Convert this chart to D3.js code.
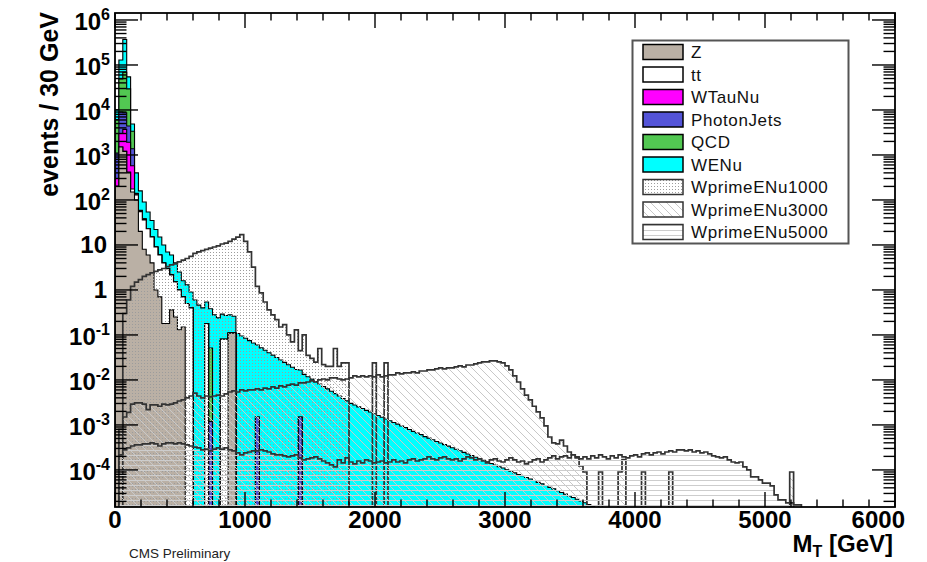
<!DOCTYPE html>
<html>
<head>
<meta charset="utf-8">
<script src="https://cdn.jsdelivr.net/npm/d3@7"></script>
<style>
  html, body { margin: 0; padding: 0; background: #fff; }
  svg { display: block; font-family: "Liberation Sans", Arial, Helvetica, sans-serif; }
</style>
</head>
<body>
<svg id="chart" width="927" height="562"></svg>
<script>
// ---------------- DATA (events / 30 GeV, bins start at 0 GeV) ----------------
const binWidth = 30; // GeV
const nBins = 200;   // 0 - 6000 GeV

const zValues = [200,1500,1200,400,150,100,20,8,6,4,1.0,0.7,0.18,0.18,0.36,0.25,0.13,0.15];
const zSpikeMT = [870, 900];
const zSpikeVal = [0.11, 0.11];

const ttValues = [0,3,8,15,25,30,35,28,17,11,8,5.3,3.8,2.8,1.8,1.25,0.87,0.55,0.5,0.4];
const ttSpikeMT = [690, 810, 840];
const ttSpikeVal = [0.18, 0.08, 0.08];

const wtaunuValues = [100,1500,2500,1500,400,5,2,1];

const photonJetsValues = [800,6000,5000,2500,800,3,1,0.5];
const pjSpikeMT = [720, 1080, 1410];
const pjSpikeVal = [0.0012, 0.0015, 0.0015];

const qcdValues = [5000,40000,60000,25000,2000,2,1,0.5];
const qcdSpikeMT = [720];
const qcdSpikeVal = [0.05];

const wenuValues = [4000,80000,300000,25000,1500,260,100,52,31,20,13,9,6,4,3.8,2.5,1.5,0.9,0.8,0.5,
  0.6,0.46,0.4,0.36,0.33,0.28,0.24,0.21,0.19,0.17,0.15,
  0.108,0.095,0.0845,0.0746,0.066,0.0585,0.0517,0.0457,0.0403,0.0356,
  0.0315,0.0278,0.0246,0.0218,0.0192,0.017,0.0151,0.0133,0.0118,0.0104,
  0.00917,0.0081,0.00717,0.00634,0.00561,0.00496,0.00439,0.00388,0.00343,0.00302,
  0.00277,0.00252,0.00231,0.00211,0.00194,0.00177,0.00162,0.00148,0.00135,0.00124,
  0.00113,0.00104,9.5e-4,8.7e-4,7.9e-4,7.2e-4,6.6e-4,6.1e-4,5.5e-4,5.1e-4,
  4.67e-4,4.3e-4,3.96e-4,3.66e-4,3.38e-4,3.11e-4,2.88e-4,2.66e-4,2.45e-4,2.26e-4,
  2.09e-4,1.92e-4,1.77e-4,1.64e-4,1.51e-4,1.39e-4,1.29e-4,1.18e-4,1.1e-4,1.01e-4,
  9.35e-5,8.6e-5,7.9e-5,7.4e-5,6.8e-5,6.3e-5,5.8e-5,5.3e-5,4.9e-5,4.5e-5,
  4.1e-5,3.8e-5,3.45e-5,3.16e-5,2.9e-5,2.65e-5,2.44e-5,2.23e-5,2.04e-5,1.87e-5,
  1.71e-5,1.55e-5];

const wprime1000Values = [0,0,0.3,0.6,1.2,1.5,1.7,2.0,2.2,2.4,
  2.6,2.8,3.0,3.3,3.6,3.8,4.2,4.6,5.0,5.6,
  6.5,7,7.5,8,8.5,9,9.5,10.5,11,12,
  13.5,15,17,12,7,3.2,1.2,0.86,0.54,0.36,
  0.28,0.22,0.15,0.17,0.1,0.07,0.13,0.045,0.1,0.035,
  0.03,0.025,0.05,0.022,0.02,0.02,0.05,0.02,0.024,0.024,
  0,0,0,0,0,0,0.024,0,0,0.024];

const wprime3000Values = [0,0.0008,0.0015,0.0019,0.0029,0.0031,0.0031,0.0029,0.0022,0.0028,
  0.0028,0.0026,0.0029,0.0028,0.0029,0.0031,0.0034,0.0036,0.0040,0.0044,
  0.0051,0.0044,0.0040,0.0044,0.0042,0.0044,0.0046,0.0044,0.0049,0.0054,
  0.0057,0.0054,0.0060,0.0057,0.0060,0.0060,0.0063,0.0060,0.0066,0.0063,
  0.0070,0.0066,0.0074,0.0070,0.0077,0.0081,0.0077,0.0086,0.0086,0.0090,
  0.0095,0.0090,0.0100,0.0105,0.0100,0.0111,0.0111,0.0105,0.0100,0.0105,
  0.0111,0.0123,0.0117,0.0123,0.0117,0.0123,0.0117,0.0129,0.0117,0.0123,
  0.0129,0.0129,0.0143,0.0136,0.0143,0.0143,0.0151,0.0143,0.0158,0.0158,
  0.0167,0.0167,0.0176,0.0185,0.0176,0.0185,0.0185,0.0195,0.0205,0.0195,
  0.0215,0.0215,0.0227,0.0239,0.0251,0.0251,0.0264,0.0264,0.0251,0.0239,
  0.0205,0.0167,0.0123,0.0090,0.0063,0.0046,0.0036,0.0026,0.00195,0.00143,
  9.5e-4,5.4e-4,4.0e-4,3.8e-4,4.6e-4,3.4e-4,2.5e-4,2.15e-4,1.85e-4,1.23e-4,9.0e-5];
const wp3000SpikeMT = [3720, 3870, 3900, 4050, 4260, 5190];
const wp3000SpikeVal = [9e-5, 9e-5, 1.7e-4, 9e-5, 9e-5, 9e-5];

const wprime5000Values = [0,2.15e-4,2.8e-4,3.1e-4,3.4e-4,3.6e-4,3.6e-4,3.8e-4,3.8e-4,4.0e-4,
  3.8e-4,3.4e-4,3.8e-4,4.0e-4,4.0e-4,3.8e-4,4.0e-4,3.8e-4,3.6e-4,3.4e-4,
  3.2e-4,3.1e-4,2.8e-4,2.9e-4,2.64e-4,2.9e-4,3.1e-4,2.9e-4,3.1e-4,2.8e-4,
  2.64e-4,2.4e-4,2.15e-4,2.4e-4,2.5e-4,2.64e-4,2.64e-4,2.8e-4,2.64e-4,2.5e-4,
  2.27e-4,2.15e-4,2.15e-4,2.05e-4,1.95e-4,2.05e-4,2.15e-4,1.85e-4,1.67e-4,1.76e-4,
  1.85e-4,1.95e-4,1.76e-4,1.58e-4,1.43e-4,1.29e-4,1.17e-4,1.67e-4,1.43e-4,1.85e-4,
  1.5e-4,1.36e-4,1.58e-4,1.43e-4,1.67e-4,1.58e-4,1.43e-4,1.5e-4,1.58e-4,1.43e-4,
  1.5e-4,1.67e-4,1.5e-4,1.58e-4,1.43e-4,1.67e-4,1.76e-4,1.58e-4,1.67e-4,1.76e-4,
  1.95e-4,1.76e-4,1.67e-4,1.85e-4,1.95e-4,1.76e-4,1.67e-4,1.76e-4,1.58e-4,1.76e-4,
  1.95e-4,1.85e-4,1.67e-4,1.76e-4,1.58e-4,1.43e-4,1.67e-4,1.76e-4,1.58e-4,1.5e-4,
  1.67e-4,1.85e-4,1.67e-4,1.5e-4,1.58e-4,1.36e-4,1.5e-4,1.67e-4,1.76e-4,1.5e-4,
  1.67e-4,1.85e-4,2.05e-4,1.76e-4,1.95e-4,2.05e-4,1.85e-4,2.15e-4,1.95e-4,1.76e-4,
  1.95e-4,1.76e-4,2.05e-4,1.85e-4,2.15e-4,1.95e-4,1.76e-4,2.05e-4,1.85e-4,2.15e-4,
  1.95e-4,1.85e-4,2.05e-4,2.15e-4,1.95e-4,2.27e-4,2.4e-4,2.15e-4,2.4e-4,2.5e-4,
  2.27e-4,2.5e-4,2.64e-4,2.5e-4,2.8e-4,2.8e-4,2.64e-4,2.8e-4,2.5e-4,2.64e-4,
  2.4e-4,2.5e-4,2.27e-4,2.05e-4,1.95e-4,1.85e-4,1.95e-4,1.67e-4,1.5e-4,1.43e-4,
  1.5e-4,1.17e-4,1.0e-4,7.0e-5,7.0e-5,6.0e-5,5.1e-5,5.1e-5,4.4e-5,2.8e-5,
  2.15e-5,2.15e-5,1.85e-5,1.85e-5,1.67e-5,1.67e-5];

const legendLabels = ["Z","tt","WTauNu","PhotonJets","QCD","WENu","WprimeENu1000","WprimeENu3000","WprimeENu5000"];
const xTickValues = [0,1000,2000,3000,4000,5000,6000];
const yTickExponents = [-4,-3,-2,-1,0,1,2,3,4,5,6];

// ---------------- LAYOUT ----------------
const svg = d3.select("#chart");
const L = 115, R = 895, T = 13, B = 507;
const x = d3.scaleLinear().domain([0, 6000]).range([L, R]);
const y = d3.scaleLog().domain([1.5e-5, 1.43e6]).range([B, T]);

function fullArray(vals, spikeMT, spikeVal) {
  const a = new Array(nBins).fill(0);
  vals.forEach((v, i) => { a[i] = v; });
  if (spikeMT) spikeMT.forEach((m, j) => { a[Math.floor(m / binWidth)] += spikeVal[j]; });
  return a;
}
const zFull = fullArray(zValues, zSpikeMT, zSpikeVal);
const ttFull = fullArray(ttValues, ttSpikeMT, ttSpikeVal);
const wtFull = fullArray(wtaunuValues);
const pjFull = fullArray(photonJetsValues, pjSpikeMT, pjSpikeVal);
const qcdFull = fullArray(qcdValues, qcdSpikeMT, qcdSpikeVal);
const wenuFull = fullArray(wenuValues);
const w1Full = fullArray(wprime1000Values);
const w3Full = fullArray(wprime3000Values, wp3000SpikeMT, wp3000SpikeVal);
const w5Full = fullArray(wprime5000Values);

const stackLayers = [
  {name: "Z", data: zFull, color: "#bab0a5"},
  {name: "tt", data: ttFull, color: "#ffffff"},
  {name: "WTauNu", data: wtFull, color: "#ff00ff"},
  {name: "PhotonJets", data: pjFull, color: "#5454d8"},
  {name: "QCD", data: qcdFull, color: "#52c852"},
  {name: "WENu", data: wenuFull, color: "#00ffff"}
];
let cum = new Array(nBins).fill(0);
stackLayers.forEach(l => { cum = cum.map((c, i) => c + l.data[i]); l.cum = cum.slice(); });

// ---------------- DEFS ----------------
const defs = svg.append("defs");
defs.append("clipPath").attr("id", "frameClip").append("rect")
  .attr("x", L).attr("y", T).attr("width", R - L).attr("height", B - T);

const pDots = defs.append("pattern").attr("id", "pDots").attr("patternUnits", "userSpaceOnUse")
  .attr("width", 3).attr("height", 3);
pDots.append("rect").attr("x", 0).attr("y", 0).attr("width", 1).attr("height", 1).attr("fill", "#9c9c9c");

const pDiag = defs.append("pattern").attr("id", "pDiag").attr("patternUnits", "userSpaceOnUse")
  .attr("width", 8).attr("height", 8);
pDiag.append("path").attr("d", "M0,0L8,8M-2,6L2,10M6,-2L10,2")
  .attr("stroke", "#c8c8c8").attr("stroke-width", 1).attr("fill", "none");

const pHor = defs.append("pattern").attr("id", "pHor").attr("patternUnits", "userSpaceOnUse")
  .attr("width", 6).attr("height", 5);
pHor.append("rect").attr("x", 0).attr("y", 0).attr("width", 6).attr("height", 1).attr("fill", "#cdcdcd");

// ---------------- HISTOGRAMS ----------------
const yBelow = B + 3;
function stepPath(vals) {
  let d = `M${x(0)},${yBelow}`;
  vals.forEach((v, i) => {
    const yy = v > 0 ? y(v) : yBelow;
    d += `L${x(i * binWidth)},${yy}L${x((i + 1) * binWidth)},${yy}`;
  });
  d += `L${x(vals.length * binWidth)},${yBelow}Z`;
  return d;
}

const plot = svg.append("g").attr("clip-path", "url(#frameClip)");
stackLayers.slice().reverse().forEach(l => {
  plot.append("path").attr("d", stepPath(l.cum))
    .attr("fill", l.color).attr("stroke", "#000").attr("stroke-width", 1.1);
});
const signals = [
  {data: w1Full, fill: "url(#pDots)"},
  {data: w3Full, fill: "url(#pDiag)"},
  {data: w5Full, fill: "url(#pHor)"}
];
signals.forEach(s => {
  plot.append("path").attr("d", stepPath(s.data))
    .attr("fill", s.fill).attr("stroke", "#333").attr("stroke-width", 1.7);
});

// ---------------- AXES ----------------
const axes = svg.append("g").attr("stroke", "#000");
d3.range(0, 6001, 200).forEach(v => {
  const major = v % 1000 === 0;
  const len = major ? 15 : 7.5;
  axes.append("line").attr("x1", x(v)).attr("x2", x(v)).attr("y1", B).attr("y2", B - len).attr("stroke-width", 1.4);
  axes.append("line").attr("x1", x(v)).attr("x2", x(v)).attr("y1", T).attr("y2", T + len).attr("stroke-width", 1.4);
});
const yMin = y.domain()[0], yMax = y.domain()[1];
for (let e = -5; e <= 6; e++) {
  for (let m = 1; m <= 9; m++) {
    const v = m * Math.pow(10, e);
    if (v < yMin || v > yMax) continue;
    const len = m === 1 ? 23 : 11.5;
    axes.append("line").attr("x1", L).attr("x2", L + len).attr("y1", y(v)).attr("y2", y(v)).attr("stroke-width", 1.4);
    axes.append("line").attr("x1", R).attr("x2", R - len).attr("y1", y(v)).attr("y2", y(v)).attr("stroke-width", 1.4);
  }
}
svg.append("rect").attr("x", L).attr("y", T).attr("width", R - L).attr("height", B - T)
  .attr("fill", "none").attr("stroke", "#000").attr("stroke-width", 1.8);

// x labels (last one pulled inside as in the original)
svg.append("g").selectAll("text").data(xTickValues).join("text")
  .attr("x", (d, i) => i === xTickValues.length - 1 ? 905 : x(d))
  .attr("y", 528)
  .attr("text-anchor", (d, i) => i === xTickValues.length - 1 ? "end" : "middle")
  .attr("font-size", 24).attr("font-weight", "bold").text(d => d);

// y labels
const yl = svg.append("g");
yTickExponents.forEach(e => {
  const ty = y(Math.pow(10, e));
  if (e === 0 || e === 1) {
    yl.append("text").attr("x", 107).attr("y", ty + 8.5).attr("text-anchor", "end")
      .attr("font-size", 24).attr("font-weight", "bold").text(e === 0 ? "1" : "10");
  } else {
    const t = yl.append("text").attr("x", 110).attr("y", ty + 10).attr("text-anchor", "end")
      .attr("font-size", 24).attr("font-weight", "bold");
    t.append("tspan").text("10");
    t.append("tspan").attr("dy", -10).attr("font-size", 16).text(String(e));
  }
});

// axis titles
svg.append("text").attr("transform", "translate(58,12) rotate(-90)").attr("text-anchor", "end")
  .attr("font-size", 25).attr("font-weight", "bold").text("events / 30 GeV");
const xt = svg.append("text").attr("x", 893).attr("y", 552).attr("text-anchor", "end")
  .attr("font-size", 24).attr("font-weight", "bold");
xt.append("tspan").text("M");
xt.append("tspan").attr("dy", 5).attr("font-size", 16).text("T");
xt.append("tspan").attr("dy", -5).text(" [GeV]");

svg.append("text").attr("x", 129).attr("y", 558).attr("font-size", 13.5).attr("fill", "#222")
  .text("CMS Preliminary");

// ---------------- LEGEND ----------------
const lg = svg.append("g");
lg.append("rect").attr("x", 632.5).attr("y", 40.5).attr("width", 216).attr("height", 203)
  .attr("fill", "#fff").attr("stroke", "#555").attr("stroke-width", 2);
const legendFills = stackLayers.map(l => l.color).concat(["url(#pDots)", "url(#pDiag)", "url(#pHor)"]);
legendLabels.forEach((lab, i) => {
  const cy = 52 + i * 22.5;
  lg.append("rect").attr("x", 643).attr("y", cy - 7.5).attr("width", 40).attr("height", 15)
    .attr("fill", legendFills[i]).attr("stroke", i < 6 ? "#000" : "#333").attr("stroke-width", 1.5);
  lg.append("text").attr("x", 691).attr("y", cy + 6).attr("font-size", 17)
    .attr("letter-spacing", 0.6).attr("fill", "#111").text(lab);
});
</script>
</body>
</html>
